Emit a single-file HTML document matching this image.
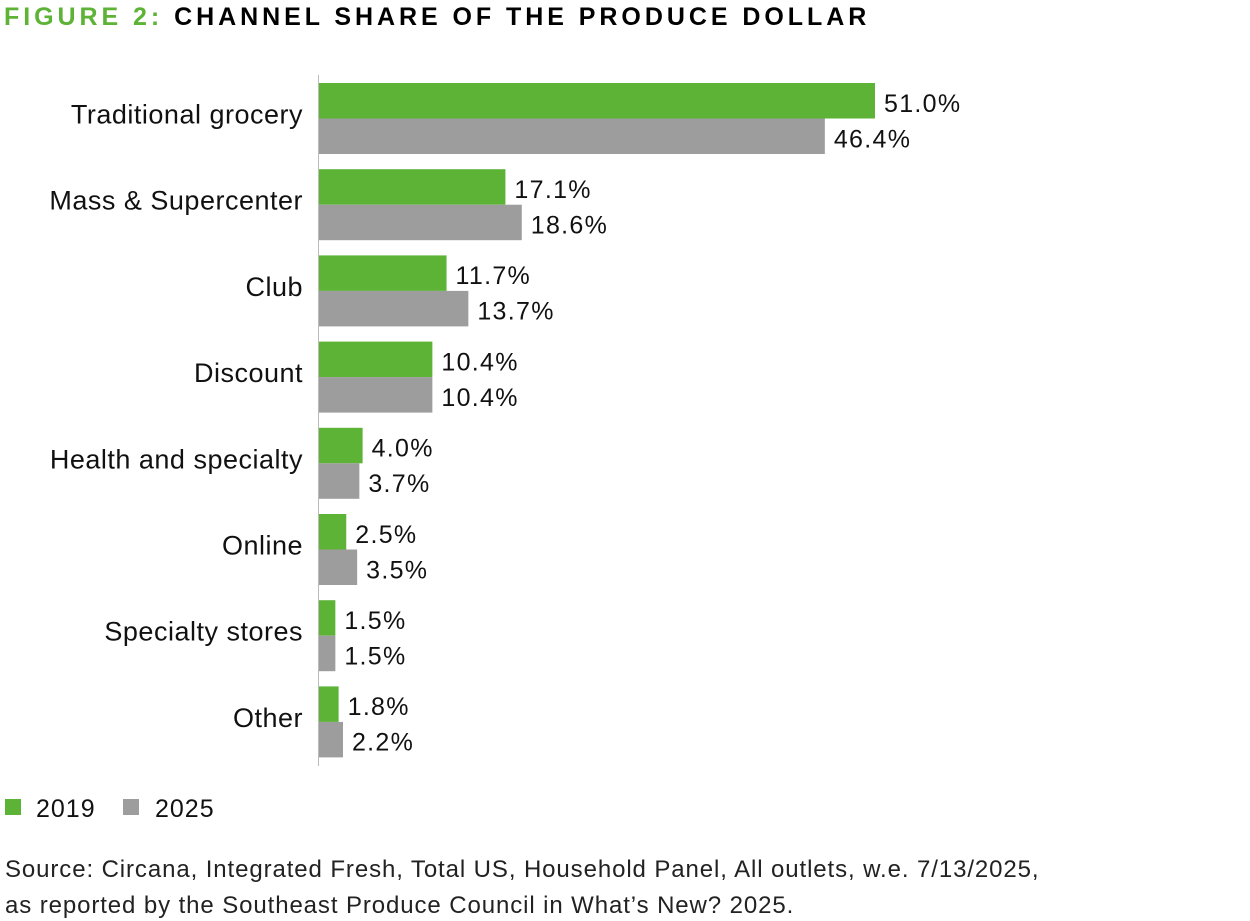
<!DOCTYPE html>
<html><head><meta charset="utf-8"><style>
body{margin:0;background:#fff;width:1250px;height:921px;overflow:hidden;font-family:"Liberation Sans",sans-serif}
#t{position:absolute;left:4px;top:3px;font-size:25px;font-weight:bold;letter-spacing:3.95px;white-space:nowrap}
.src{position:absolute;left:5px;font-size:24px;letter-spacing:0.9px;color:#222;white-space:nowrap}
</style></head><body>
<div id="t"><span style="color:#5db336">FIGURE 2:</span> CHANNEL SHARE OF THE PRODUCE DOLLAR</div>
<svg id="c" width="1250" height="921" style="position:absolute;left:0;top:0"></svg>
<div class="src" style="top:856px">Source: Circana, Integrated Fresh, Total US, Household Panel, All outlets, w.e. 7/13/2025,</div>
<div class="src" style="top:892px">as reported by the Southeast Produce Council in What’s New? 2025.</div>
<script>
const categories=["Traditional grocery","Mass & Supercenter","Club","Discount","Health and specialty","Online","Specialty stores","Other"];
const values2019=[51.0,17.1,11.7,10.4,4.0,2.5,1.5,1.8];
const values2025=[46.4,18.6,13.7,10.4,3.7,3.5,1.5,2.2];
const seriesNames=["2019","2025"];
const NS="http://www.w3.org/2000/svg";
const svg=document.getElementById('c');
const x0=319, pxPer=(875-319)/51;
const xs=v=>x0+v*pxPer;
const y0=83, pitch=86.2, bh=35.5;
const ys=i=>y0+i*pitch;
function mk(tag,attrs,txt){const e=document.createElementNS(NS,tag);for(const k in attrs)e.setAttribute(k,attrs[k]);if(txt!=null)e.textContent=txt;svg.appendChild(e);return e;}
const cols=["#5db336","#9d9d9d"];
categories.forEach((c,i)=>{
  const t=mk('text',{x:303,y:ys(i)+bh+5,'text-anchor':'end','font-size':27,'letter-spacing':0.5,fill:'#111'},c);
  
  
  [values2019,values2025].forEach((arr,s)=>{
    const v=arr[i];
    const r=mk('rect',{x:x0,y:ys(i)+s*bh,width:xs(v)-x0,height:bh,fill:cols[s]});
    
    
    const l=mk('text',{x:xs(v)+9,y:ys(i)+s*bh+bh/2+11,'font-size':25,'letter-spacing':1.3,fill:'#111'},v.toFixed(1)+'%');
    
    
  });
});
const ax=mk('line',{x1:x0-0.5,x2:x0-0.5,y1:75,y2:766,stroke:'#bbb','stroke-width':1});


[[5,36],[123,155]].forEach((p,s)=>{
  const r=mk('rect',{x:p[0],y:799,width:16,height:16,fill:cols[s]});
  
  
  const t=mk('text',{x:p[1],y:817,'font-size':25,'letter-spacing':1,fill:'#111'},seriesNames[s]);
  
  
});
</script>
</body></html>
